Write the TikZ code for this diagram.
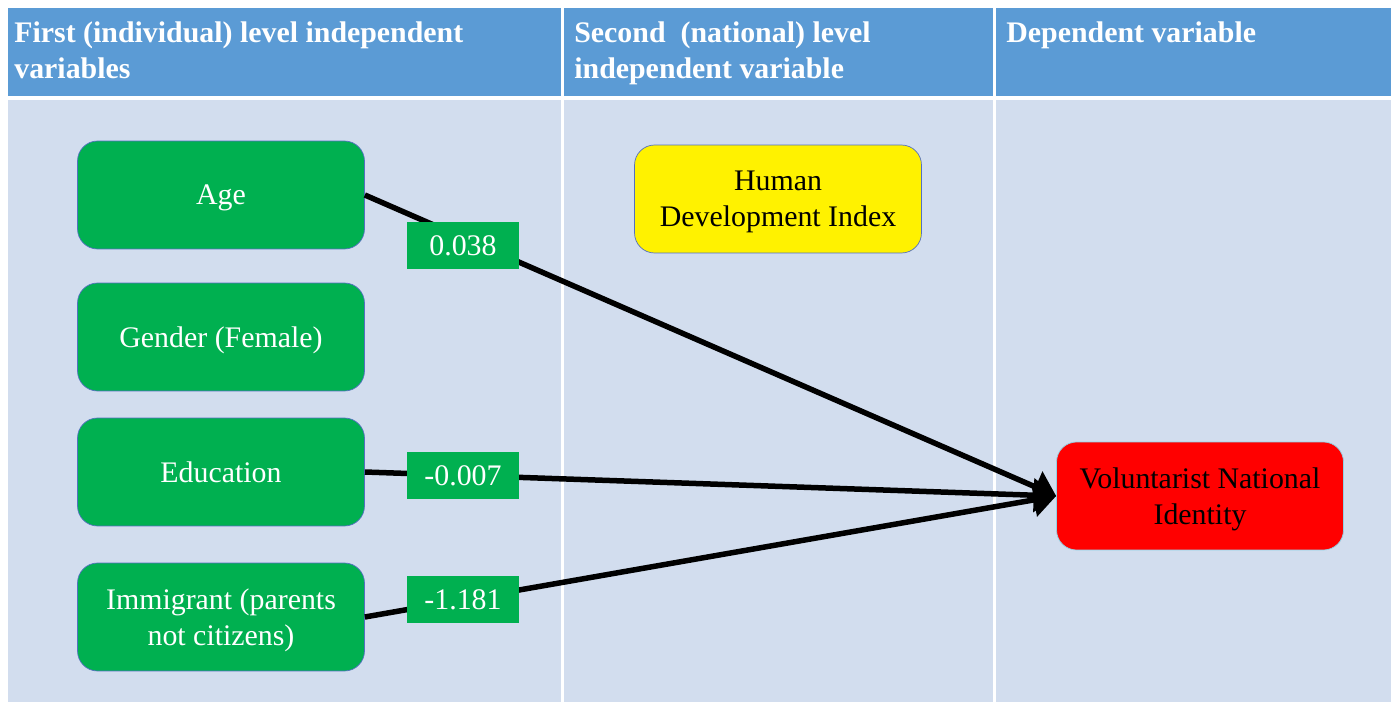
\documentclass[tikz,border=0pt]{standalone}
\usepackage{fontspec}
\setmainfont{Liberation Serif}
\usepackage{xcolor}
\usepackage{tikz}
\usetikzlibrary{positioning,arrows.meta}

\definecolor{hdrblue}{HTML}{5B9BD5}
\definecolor{bodyblue}{HTML}{D2DDEE}
\definecolor{vgreen}{HTML}{00B050}
\definecolor{boxedge}{HTML}{5470C0}
\definecolor{rededge}{HTML}{8FD3E6}
\newcommand{\labfont}{\fontsize{17}{20.5}\selectfont}

\begin{document}
\begin{tikzpicture}[x=0.02cm, y=-0.02cm, ->, >={Triangle[length=0.45cm, width=0.66cm]}, main/.style = {rectangle, rounded corners=0.4cm, draw=boxedge, fill=vgreen, text=white, minimum width=5.74cm, minimum height=2.16cm, text depth=0pt, align=center, font=\labfont, inner sep=0pt}, coef/.style = {rectangle, fill=vgreen, text=white, minimum width=2.26cm, minimum height=0.94cm, font=\labfont, inner sep=0pt}, head/.style = {anchor=north west, align=left, text=white, font=\labfont\bfseries, inner sep=0pt}, every edge/.append style={line width=0.11cm}]

\useasboundingbox (0,0) rectangle (1391,702);

% table background
\fill[-, white] (0,0) rectangle (1391,702);
\fill[-, hdrblue] (8,8) rectangle (1391,96);
\fill[-, bodyblue] (8,100) rectangle (1391,702);
\draw[-, white, line width=0.06cm] (562,8) -- (562,702);
\draw[-, white, line width=0.06cm] (994,8) -- (994,702);

\node[head] (h1) at (14,21) {First (individual) level independent\\variables};
\node[head] (h2) at (574,21) {Second~ (national) level\\independent variable};
\node[head] (h3) at (1006,21) {Dependent variable};

\node[main] (age) at (221,195) {Age};
\node[main] (gen) at (221,337) {Gender (Female)};
\node[main] (edu) at (221,472) {Education};
\node[main] (imm) at (221,617) {Immigrant (parents\\not citizens)};
\node[main, fill=yellow, text=black] (hdi) at (778,199) {Human\\Development Index};
\node[main, fill=red, text=black, draw=rededge] (vni) at (1200,496) {Voluntarist National\\Identity};

\path 
    (age.east) edge node[coef, pos=.142, yshift=-0.16cm] {0.038} (vni.west)
    (edu.east) edge node[coef, pos=.142] {-0.007} (vni.west)
    (imm.east) edge node[coef, pos=.142] {-1.181} (vni.west);
\end{tikzpicture}
\end{document}
